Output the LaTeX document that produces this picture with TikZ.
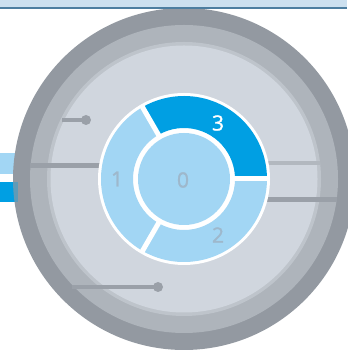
\documentclass[tikz,border=0pt]{standalone}
\usepackage{fontspec}
\setmainfont{Open Sans}
\newfontfamily\digitfont{Open Sans}[FakeBold=1.2]
\definecolor{outerring}{HTML}{9399A1}
\definecolor{midring}{HTML}{AEB4BB}
\definecolor{thinband}{HTML}{BEC4CB}
\definecolor{innerdisk}{HTML}{D0D6DE}
\definecolor{lightblue}{HTML}{A2D6F4}
\definecolor{darkblue}{HTML}{009FE3}
\definecolor{topband}{HTML}{CCE0EF}
\definecolor{topline}{HTML}{4D7EA0}
\definecolor{wirecol}{HTML}{9AA0A8}
\definecolor{wirelight}{HTML}{B2B8BF}
\definecolor{digitcol}{HTML}{9EB8CC}
\tikzset{
  wire/.style={wirecol, line width=4pt},
  wirepale/.style={wirelight, line width=4.5pt},
  dotend/.style={circle, fill=wirecol, inner sep=0pt, minimum size=10pt},
  digit/.style={font=\digitfont\fontsize{21}{21}\selectfont, text=digitcol, inner sep=0pt},
  gapline/.style={white, line width=5pt}
}
\begin{document}
\begin{tikzpicture}[x=1pt,y=1pt]
\useasboundingbox (0,0) rectangle (347,352);
% left bars
\fill[lightblue] (0,352-153) rectangle (16,352-174);
\fill[darkblue] (0,352-182) rectangle (16,352-202);
% big disk rings
\coordinate (c) at (184,173);
\fill[outerring] (c) circle (171);
\fill[midring] (c) circle (154);
\fill[thinband] (c) circle (137);
\fill[innerdisk] (c) circle (133.5);
% translucent bar overlap
\fill[darkblue, opacity=0.35] (13,352-182) rectangle (18,352-202);
% wires and dots
\node[dotend] (d1) at (86,352-120) {};
\node[dotend] (d2) at (158,352-287) {};
\coordinate (w1) at (62,352-120);
\coordinate (w2) at (72,352-287);
\draw[wire, line width=3.5pt] (w1) -- (d1.center);
\draw[wire, line width=3.5pt] (w2) -- (d2.center);
\coordinate (m1) at (30,352-166);
\coordinate (m2) at (100,352-166);
\draw[wire, line width=5pt] (m1) -- (m2);
\coordinate (r1a) at (262,352-163);
\coordinate (r1b) at (320,352-163);
\draw[wirepale] (r1a) -- (r1b);
\coordinate (r2a) at (262,352-200);
\coordinate (r2b) at (337,352-200);
\draw[wire, line width=5pt] (r2a) -- (r2b);
% central dial
\begin{scope}[shift={(c)}]
  \fill[white] (0,0) circle (86);
  \fill[darkblue] (0:83) arc (0:120:83) -- (120:51) arc (120:0:51) -- cycle;
  \fill[lightblue] (120:83) arc (120:240:83) -- (240:51) arc (240:120:51) -- cycle;
  \fill[lightblue] (240:83) arc (240:360:83) -- (360:51) arc (360:240:51) -- cycle;
  \draw[gapline] (0:48) -- (0:85);
  \draw[gapline] (120:48) -- (120:85);
  \draw[gapline] (240:48) -- (240:85);
  \fill[lightblue] (0,0) circle (46);
\end{scope}
% labels
\node[digit, text=white] (l3) at (218,352-123) {3};
\node[digit] (l1) at (117,352-179) {1};
\node[digit] (l0) at (183,352-180) {0};
\node[digit] (l2) at (218,352-235) {2};
% top band
\fill[topband] (0,352) rectangle (347,352-7);
\draw[topline, line width=1.5pt] (0,352-7.8) -- (347,352-7.8);
\end{tikzpicture}
\end{document}
